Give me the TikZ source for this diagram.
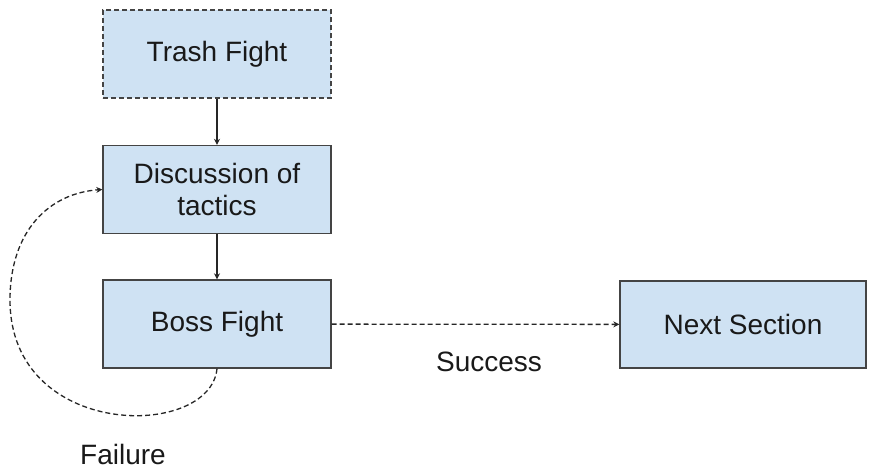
\documentclass[tikz,border=0pt]{standalone}
\usepackage{fontspec}
\setmainfont{Liberation Sans}
\usetikzlibrary{arrows.meta}
\definecolor{boxfill}{HTML}{CFE2F3}
\definecolor{boxline}{HTML}{444444}
\begin{document}
\begin{tikzpicture}[
        x=1pt,y=-1pt,
        stage/.style={draw=boxline,fill=boxfill,line width=1.4pt,
            minimum width=228pt,minimum height=88pt,inner sep=0pt,
            align=center,text=black!90,font={\fontsize{28}{32}\selectfont}},
        tag/.style={text=black!90,font={\fontsize{28}{32}\selectfont}},
        link/.style={draw=black!85,line width=1.3pt,
            -{Stealth[length=6pt,width=6pt]}},
        maybe/.style={dash pattern=on 5pt off 3pt}
        ]
        \useasboundingbox (0,0) rectangle (870,472);

        % Boxes
        \node[stage,maybe] (trash) at (217,54) {Trash Fight};
        \node[stage] (discuss) at (217,189.5) {Discussion of\\tactics};
        \node[stage] (boss) at (217,324) {Boss Fight};
        \node[stage,minimum width=246pt,minimum height=87pt] (next) at (743,324.5) {Next Section};

        % Labels
        \node[tag] (success) at (489,362) {Success};
        \node[tag] (failure) at (123,454) {Failure};

        % Flow
        \draw[link] (trash) -- (discuss);
        \draw[link] (discuss) -- (boss);
        \draw[link,maybe] (boss) -- (next);


        % Retry loop
        \draw[link,maybe] (boss.south) .. controls (210,440) and (10,440) .. (10,300)
            .. controls (10,230) and (50,193) .. (discuss.west);
    \end{tikzpicture}
\end{document}
